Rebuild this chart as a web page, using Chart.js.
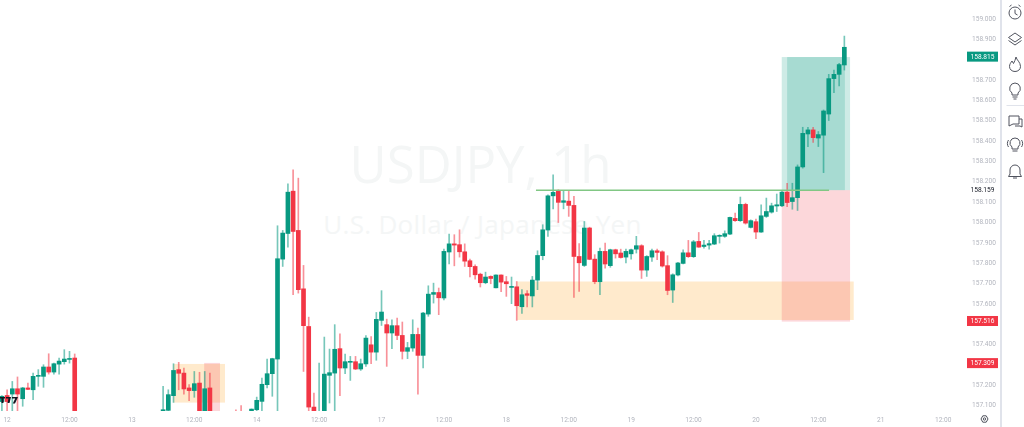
<!DOCTYPE html>
<html>
<head>
<meta charset="utf-8">
<title>USDJPY, 1h</title>
<script src="https://cdn.jsdelivr.net/npm/chart.js@4"></script>
<style>
    html, body { margin: 0; padding: 0; background: #fff; }
    #page { position: relative; width: 1024px; height: 427px; overflow: hidden; background: #fff; }
    #plot { position: absolute; left: 0; top: -20px; width: 1001px; height: 447px; }
    .mark { position: absolute; left: 0; width: 965px; text-align: center; color: #f4f6f6; font-family: "Open Sans", sans-serif; white-space: nowrap; }
    #mark-main { top: 128px; left: -2px; font-size: 51px; line-height: 70px; }
    #mark-sub { top: 206px; font-size: 26px; line-height: 36px; letter-spacing: 0.3px; }
    #rail { position: absolute; left: 1000px; top: 0; width: 2px; height: 427px; background: #e0e3eb; }
    #icons, #logo { position: absolute; left: 0; top: 0; }
</style>
</head>
<body>
<div id="page">
    <div class="mark" id="mark-main">USDJPY, 1h</div>
    <div class="mark" id="mark-sub">U.S. Dollar / Japanese Yen</div>
    <div id="plot"><canvas id="fxChart" width="1001" height="447"></canvas></div>
    <div id="rail"></div>
    <svg id="logo" width="20" height="427"><path d="M0 397h5v1.500h-1.500v4.500h-2v-4.500h-1.500zM6 397h5l-1.500 6h-2l1-4.500h-2.500zM12 397h6l-3 6.500h-2.200l2.400-5h-3.200z" fill="#131722"/></svg>
    <svg id="icons" width="1024" height="427" fill="none" stroke="#50535e" stroke-width="1">
        <circle cx="1015" cy="13" r="6"/><path d="M1015 9.500v4l2.500 1.500M1009.500 6.500l2-1.500M1020.500 6.500l-2-1.500"/>
        <path d="M1015 33l6.500 4.500-6.500 4.500-6.500-4.500zM1008.500 40.500l6.500 4.500 6.500-4.500"/>
        <path d="M1016 57c.5 3 4.500 5 4.500 9.500 0 3-2.500 5-5.500 5s-5.500-2-5.500-5c0-2.500 1.500-4 2.500-5.500l1.500 2.500c1-2 2-4 2.500-6.500z"/>
        <path d="M1015 83a5.500 5.500 0 0 1 3 10v2h-6v-2a5.500 5.500 0 0 1 3-10zM1012.500 97h5M1013.500 99h3"/>
        <path d="M1006.500 105.500h17.500" stroke="#e0e3eb"/>
        <path d="M1009 116h10v8h-6l-4 2zM1019 119h3v8l-2-1h-5"/>
        <path d="M1015 138a5 5 0 0 1 3 9v2h-6v-2a5 5 0 0 1 3-9zM1012.500 151h5M1008.500 140c-1.500 2-1.500 5 0 7M1021.500 140c1.500 2 1.500 5 0 7"/>
        <path d="M1015 165a5 5 0 0 1 5 5v4l1.500 2.500h-13l1.500-2.500v-4a5 5 0 0 1 5-5zM1013 178h4"/>
        <path d="M981 419l1.800-3.200h3.400l1.800 3.200-1.800 3.200h-3.400z"/><circle cx="984.500" cy="419" r="1.200"/>
    </svg>
</div>
<script>
// candle values, one per hour, null where the candle sits under the visible range
const opens = [
    157.12,157.15,157.157,157.183,157.134,157.187,157.178,157.244,157.244,157.29,157.265,157.304,157.316,157.327,157.334,
    null,null,null,null,null,null,null,null,null,null,null,null,null,null,null,null,
    157.075,157.077,157.149,157.277,157.26,157.187,157.174,157.211,157.0,157.187,
    null,null,null,null,157.05,157.05,null,
    157.074,157.08,157.121,157.203,157.257,157.329,157.82,157.946,158.154,157.961,157.674,157.489,157.093,157.0,157.0,157.249,
    157.26,157.38,157.285,157.313,157.316,157.28,157.305,157.399,157.363,157.519,157.498,157.457,157.493,157.445,157.367,157.383,
    157.45,157.347,157.55,157.647,157.656,157.629,157.855,157.895,157.891,157.856,157.812,157.784,157.746,157.704,157.735,157.679,
    157.742,157.709,157.681,157.684,157.586,157.65,157.639,157.717,157.837,157.963,158.131,158.153,158.099,158.105,158.084,157.833,
    157.789,157.973,157.82,157.709,157.858,157.788,157.866,157.85,157.83,157.846,157.869,157.886,157.766,157.83,157.861,157.856,
    157.788,157.668,157.742,157.799,157.851,157.832,157.907,157.882,157.889,157.894,157.932,157.932,157.943,158.02,158.009,158.089,
    157.976,158.004,157.953,158.03,158.051,158.081,158.082,158.149,158.103,158.122,158.273,158.435,158.455,158.415,158.429,158.533,
    158.707,158.728,158.774
];
const highs = [
    157.15,157.178,157.219,157.241,157.19,157.211,157.26,157.277,157.301,157.355,157.309,157.334,157.375,157.367,157.354,
    null,null,null,null,null,null,null,null,null,null,null,null,null,null,null,null,
    157.195,157.178,157.306,157.313,157.285,157.203,157.268,157.264,157.268,157.26,
    null,null,null,null,157.08,157.1,null,
    157.084,157.142,157.236,157.329,157.333,157.984,157.961,158.19,158.259,158.218,157.789,157.535,157.162,157.309,157.437,157.378,
    157.498,157.453,157.354,157.342,157.342,157.329,157.444,157.44,157.558,157.665,157.525,157.522,157.53,157.511,157.411,157.522,
    157.481,157.558,157.689,157.702,157.678,157.869,157.943,157.94,157.964,157.895,157.82,157.792,157.751,157.756,157.738,157.743,
    157.743,157.735,157.732,157.71,157.67,157.666,157.735,157.861,157.989,158.136,158.234,158.161,158.158,158.153,158.128,157.896,
    158.005,157.977,157.842,157.874,157.899,157.869,157.869,157.869,157.869,157.869,157.932,157.891,157.837,157.869,157.869,157.861,
    157.837,157.748,157.804,157.866,157.912,157.912,157.951,157.912,157.912,157.945,157.94,157.959,158.027,158.046,158.125,158.095,
    158.013,158.017,158.087,158.12,158.095,158.14,158.157,158.193,158.193,158.283,158.468,158.468,158.468,158.447,158.553,158.728,
    158.749,158.782,158.916
];
const lows = [
    157.06,157.06,157.06,157.06,157.097,157.179,157.129,157.195,157.19,157.255,157.255,157.255,157.304,157.309,156.98,
    null,null,null,null,null,null,null,null,null,null,null,null,null,null,null,null,
    157.05,157.05,157.116,157.178,157.157,157.124,157.141,156.98,156.98,156.98,
    null,null,null,null,156.98,156.98,null,
    157.07,157.072,157.072,157.187,157.146,157.072,157.784,157.879,157.645,157.653,157.268,157.072,157.05,156.95,156.98,157.113,
    157.072,157.149,157.257,157.224,157.277,157.273,157.293,157.306,157.323,157.494,157.293,157.38,157.424,157.329,157.331,157.367,
    157.157,157.285,157.539,157.604,157.547,157.62,157.797,157.787,157.83,157.784,157.732,157.722,157.683,157.699,157.699,157.678,
    157.66,157.637,157.601,157.519,157.553,157.585,157.585,157.67,157.817,157.932,158.067,158.0,158.067,158.03,157.632,157.661,
    157.784,157.817,157.699,157.645,157.776,157.78,157.825,157.825,157.801,157.82,157.85,157.725,157.735,157.809,157.817,157.781,
    157.645,157.607,157.738,157.796,157.828,157.828,157.878,157.874,157.869,157.891,157.899,157.927,157.94,158.005,158.005,157.992,
    157.973,157.92,157.951,158.025,158.046,158.054,158.078,158.078,158.065,158.059,158.267,158.373,158.393,158.373,158.245,158.501,
    158.638,158.671,158.749
];
const closes = [
    157.146,157.12,157.183,157.157,157.187,157.18,157.244,157.247,157.29,157.265,157.306,157.319,157.329,157.332,157.0,
    null,null,null,null,null,null,null,null,null,null,null,null,null,null,null,null,
    157.08,157.154,157.273,157.259,157.182,157.174,157.208,157.0,157.183,157.0,
    null,null,null,null,157.0,157.0,null,
    157.083,157.126,157.205,157.257,157.331,157.822,157.948,158.149,157.956,157.67,157.493,157.093,157.072,157.05,157.255,157.262,
    157.377,157.285,157.316,157.316,157.28,157.306,157.432,157.363,157.524,157.56,157.457,157.493,157.445,157.367,157.385,157.45,
    157.347,157.555,157.648,157.656,157.63,157.858,157.895,157.889,157.856,157.81,157.783,157.743,157.704,157.732,157.725,157.742,
    157.707,157.699,157.684,157.591,157.645,157.642,157.717,157.838,157.964,158.131,158.148,158.099,158.107,158.084,157.833,157.802,
    157.973,157.819,157.709,157.858,157.796,157.866,157.846,157.828,157.858,157.866,157.886,157.766,157.833,157.861,157.853,157.786,
    157.666,157.743,157.801,157.851,157.832,157.905,157.879,157.889,157.896,157.935,157.935,157.945,158.025,158.009,158.089,157.997,
    158.009,157.953,158.033,158.054,158.082,158.087,158.149,158.098,158.122,158.273,158.438,158.455,158.417,158.432,158.548,158.707,
    158.728,158.776,158.861
];

// x axis: candle index of each label, and what the label says
const tickIndex = [1, 13, 25, 37, 49, 61, 73, 85, 97, 109, 121, 133, 145, 157, 169, 181];
const tickLabels = ['12', '12:00', '13', '12:00', '14', '12:00', '17', '12:00', '18', '12:00', '19', '12:00', '20', '12:00', '21', '12:00'];

// y axis
const priceTicks = [157.1, 157.2, 157.3, 157.4, 157.5, 157.6, 157.7, 157.8, 157.9, 158.0, 158.1, 158.2, 158.3, 158.4, 158.5, 158.6, 158.7, 158.8, 158.9, 159.0, 159.1];

// drawings on the chart: from / to candle index, top / bottom price
const zoneFrom = [99.1, 32.96, 149.96, 38.9, 149.96, 151.0];
const zoneTo = [163.8, 42.9, 163.1, 41.94, 163.1, 162.1];
const zoneTop = [157.71, 157.305, 158.159, 157.31, 158.813, 158.813];
const zoneBottom = [157.521, 157.115, 157.513, 157.0, 158.159, 158.159];
const zoneKind = ['sand', 'sand', 'rose', 'rose', 'teal', 'teal'];
const levelFrom = 102.7;
const levelTo = 159.06;
const levelPrice = 158.159;

// price tags on the right
const tagPrices = [158.815, 157.516, 157.309];
const tagKind = ['up', 'down', 'down'];

const UP = '#089981';
const DOWN = '#f23645';
const ZONE_FILL = { sand: 'rgba(255,152,0,0.2)', rose: 'rgba(242,54,69,0.2)', teal: 'rgba(8,153,129,0.2)' };

const bodies = [];
const wicks = [];
const bodyColors = [];
const wickColors = [];
opens.forEach((o, i) => {
    if (o === null) return;
    const rising = closes[i] >= o;
    bodies.push({ x: i, y: [o, closes[i]] });
    wicks.push({ x: i, y: [lows[i], highs[i]] });
    bodyColors.push(rising ? UP : DOWN);
    wickColors.push(rising ? 'rgba(8,153,129,0.55)' : 'rgba(242,54,69,0.55)');
});

// zones go under the candles
const zonePlugin = {
    id: 'zones',
    beforeDatasetsDraw(chart) {
        const { ctx, chartArea, scales: { x, y } } = chart;
        ctx.save();
        ctx.beginPath();
        ctx.rect(chartArea.left, chartArea.top, chartArea.width, chartArea.height);
        ctx.clip();
        zoneFrom.forEach((from, i) => {
            const left = x.getPixelForValue(from);
            const top = y.getPixelForValue(zoneTop[i]);
            ctx.fillStyle = ZONE_FILL[zoneKind[i]];
            ctx.fillRect(left, top, x.getPixelForValue(zoneTo[i]) - left, y.getPixelForValue(zoneBottom[i]) - top);
        });
        ctx.restore();
    }
};

const tagPlugin = {
    id: 'priceTags',
    afterDraw(chart) {
        const { ctx, scales: { y } } = chart;
        ctx.save();
        ctx.font = '6.6px Roboto';
        ctx.textAlign = 'center';
        ctx.textBaseline = 'middle';
        tagPrices.forEach((price, i) => {
            const py = y.getPixelForValue(price);
            ctx.fillStyle = tagKind[i] === 'up' ? UP : DOWN;
            ctx.fillRect(967, py - 5, 31, 10);
            ctx.fillStyle = '#fff';
            ctx.fillText(price.toFixed(3), 982.5, py + 0.5);
        });
        const py = y.getPixelForValue(levelPrice);
        ctx.fillStyle = '#fff';
        ctx.fillRect(968, py - 4, 30, 8);
        ctx.fillStyle = '#131722';
        ctx.fillText(levelPrice.toFixed(3), 982.5, py + 0.5);
        ctx.restore();
    }
};

// stop the tick labels from pulling the plot area in
function dropPadding(axis) {
    axis.paddingTop = 0;
    axis.paddingBottom = 0;
    axis.paddingLeft = 0;
    axis.paddingRight = 0;
}

new Chart(document.getElementById('fxChart'), {
    type: 'bar',
    data: {
        datasets: [
            {
                type: 'line',
                data: [{ x: levelFrom, y: levelPrice }, { x: levelTo, y: levelPrice }],
                borderColor: '#81c784',
                borderWidth: 1.5,
                pointRadius: 0,
                order: 0
            },
            { data: bodies, backgroundColor: bodyColors, barThickness: 4, minBarLength: 1, grouped: false, order: 1 },
            { data: wicks, backgroundColor: wickColors, barThickness: 1, grouped: false, order: 2 }
        ]
    },
    options: {
        responsive: false,
        animation: false,
        layout: { padding: 0 },
        plugins: { legend: { display: false }, tooltip: { enabled: false } },
        scales: {
            x: {
                type: 'linear',
                offset: false,
                min: -0.365,
                max: 185.2,
                grid: { display: false, drawTicks: false },
                border: { display: false },
                afterBuildTicks: (axis) => { axis.ticks = tickIndex.map(value => ({ value })); },
                afterFit: (axis) => { axis.height = 16; dropPadding(axis); },
                ticks: {
                    autoSkip: false,
                    maxRotation: 0,
                    padding: 5,
                    color: '#b2b5be',
                    font: { family: 'Roboto', size: 6.6 },
                    callback: (value) => tickLabels[tickIndex.indexOf(value)]
                }
            },
            y: {
                type: 'linear',
                position: 'right',
                min: 157.0737,
                max: 159.1916,
                grid: { display: false, drawTicks: false },
                border: { display: false },
                afterBuildTicks: (axis) => { axis.ticks = priceTicks.map(value => ({ value })); },
                afterFit: (axis) => { axis.width = 36; dropPadding(axis); },
                ticks: {
                    crossAlign: 'near',
                    padding: 7,
                    color: '#b2b5be',
                    font: { family: 'Roboto', size: 6.6 },
                    callback: (value) => value.toFixed(3)
                }
            }
        }
    },
    plugins: [zonePlugin, tagPlugin]
});
</script>
</body>
</html>
